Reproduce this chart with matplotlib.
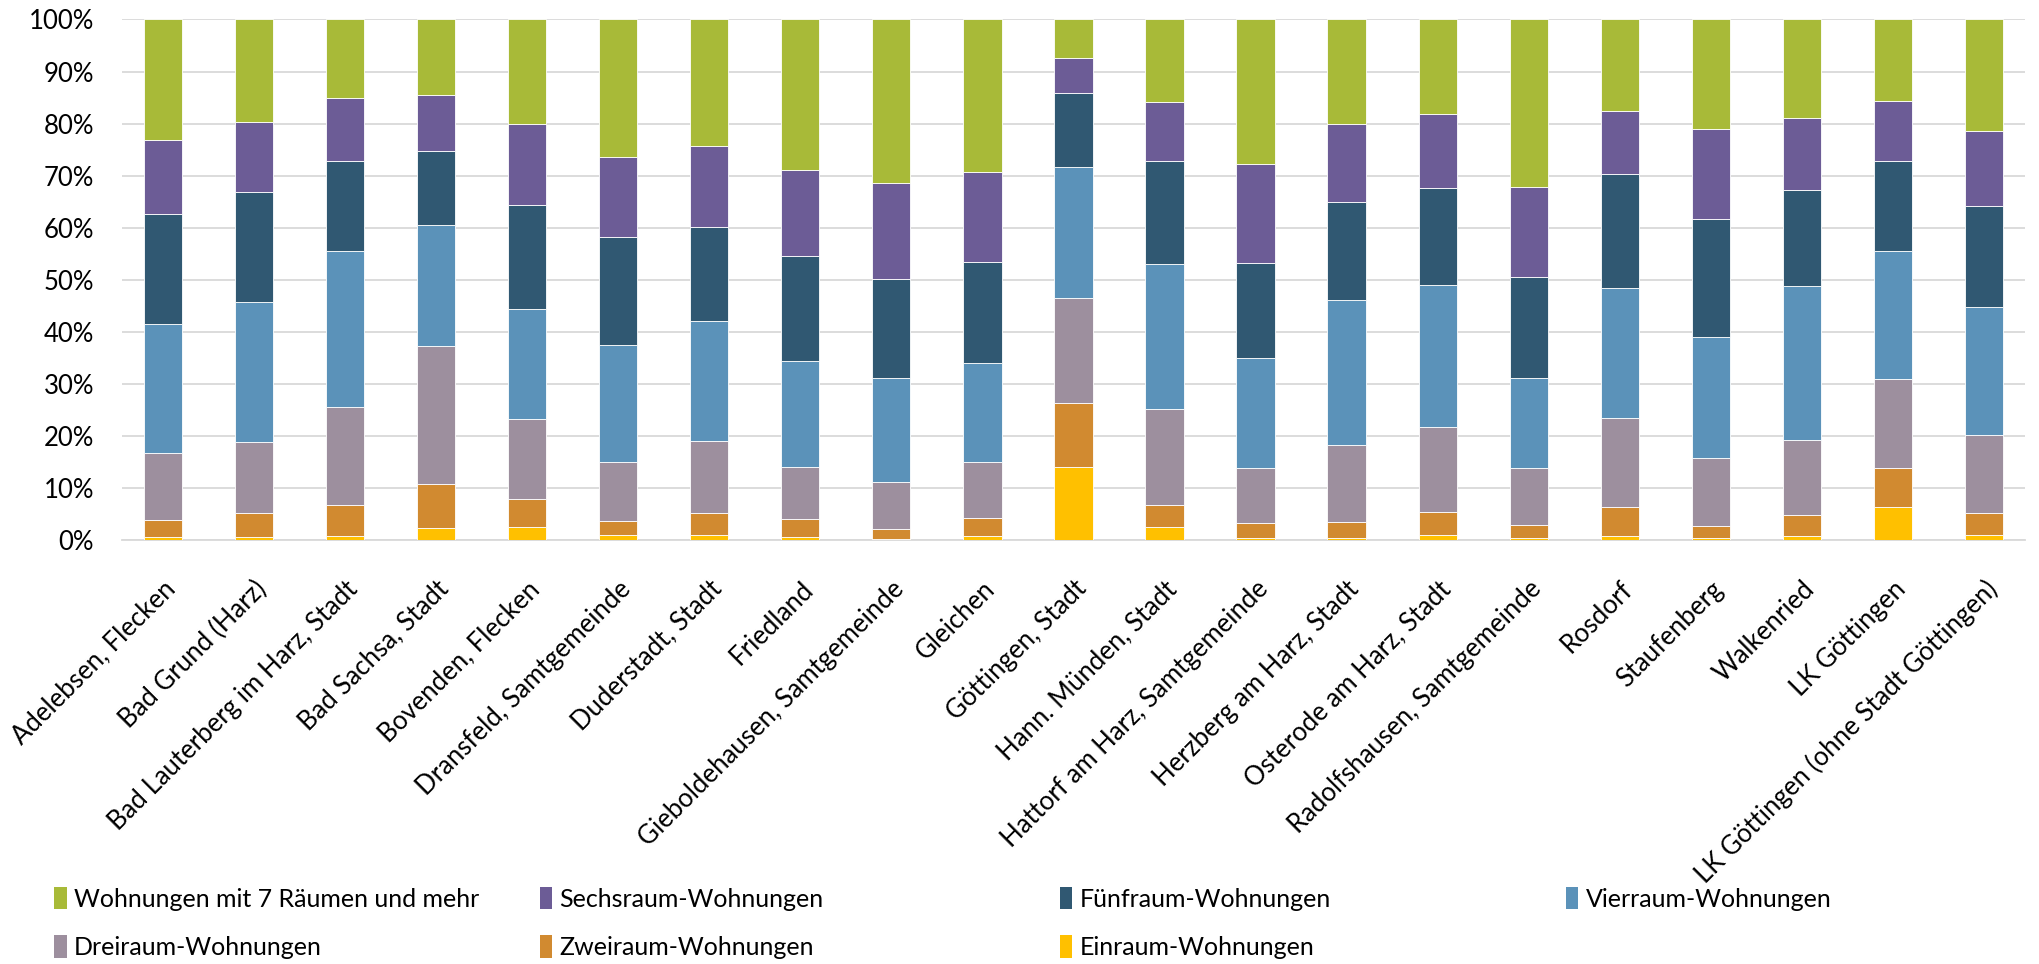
import matplotlib
matplotlib.use("Agg")
import matplotlib.pyplot as plt
import numpy as np
from matplotlib.patches import Patch

plt.rcParams['font.family'] = ['Lato', 'DejaVu Sans']

categories = [
    "Adelebsen, Flecken", "Bad Grund (Harz)", "Bad Lauterberg im Harz, Stadt",
    "Bad Sachsa, Stadt", "Bovenden, Flecken", "Dransfeld, Samtgemeinde",
    "Duderstadt, Stadt", "Friedland", "Gieboldehausen, Samtgemeinde", "Gleichen",
    "Göttingen, Stadt", "Hann. Münden, Stadt", "Hattorf am Harz, Samtgemeinde",
    "Herzberg am Harz, Stadt", "Osterode am Harz, Stadt", "Radolfshausen, Samtgemeinde",
    "Rosdorf", "Staufenberg", "Walkenried", "LK Göttingen", "LK Göttingen (ohne Stadt Göttingen)",
]

# shares in percent, stacked bottom to top
einraum = [0.5, 0.6, 0.8, 2.3, 2.5, 1.0, 1.0, 0.6, 0.2, 0.7, 14.1, 2.5, 0.3, 0.3, 1.0, 0.4, 0.8, 0.3, 0.7, 6.4, 1.0]
zweiraum = [3.3, 4.5, 5.9, 8.4, 5.4, 2.7, 4.2, 3.5, 1.9, 3.6, 12.2, 4.2, 3.0, 3.1, 4.3, 2.4, 5.5, 2.4, 4.1, 7.5, 4.2]
dreiraum = [13.0, 13.8, 18.9, 26.5, 15.4, 11.2, 13.9, 10.0, 9.0, 10.6, 20.1, 18.4, 10.6, 14.8, 16.4, 11.1, 17.2, 13.1, 14.5, 17.0, 15.0]
vierraum = [24.7, 26.9, 29.9, 23.3, 21.1, 22.5, 23.0, 20.2, 20.0, 19.1, 25.2, 28.0, 21.1, 27.9, 27.3, 17.2, 25.0, 23.2, 29.5, 24.6, 24.5]
fuenfraum = [21.1, 21.0, 17.4, 14.2, 19.9, 20.9, 18.0, 20.3, 19.1, 19.5, 14.2, 19.7, 18.2, 18.9, 18.6, 19.5, 21.8, 22.6, 18.4, 17.4, 19.4]
sechsraum = [14.3, 13.5, 12.0, 10.8, 15.7, 15.3, 15.5, 16.4, 18.3, 17.2, 6.8, 11.4, 19.1, 15.0, 14.2, 17.2, 12.1, 17.3, 13.9, 11.4, 14.4]
sieben_plus = [23.1, 19.7, 15.1, 14.5, 20.0, 26.4, 24.4, 29.0, 31.5, 29.3, 7.4, 15.8, 27.7, 20.0, 18.2, 32.2, 17.6, 21.1, 18.9, 15.7, 21.5]

series_names = ["Einraum-Wohnungen", "Zweiraum-Wohnungen", "Dreiraum-Wohnungen",
                "Vierraum-Wohnungen", "Fünfraum-Wohnungen", "Sechsraum-Wohnungen",
                "Wohnungen mit 7 Räumen und mehr"]
series_vals = [einraum, zweiraum, dreiraum, vierraum, fuenfraum, sechsraum, sieben_plus]
colors = ["#FFC000", "#D18A30", "#9D8F9E", "#5B92B9", "#305872", "#6C5C96", "#A8BA38"]

fig = plt.figure(figsize=(20.4, 9.64), dpi=100)
ax = fig.add_axes([0.0598, 0.4398, 0.9328, 0.54])

x = np.arange(len(categories))
data = np.array(series_vals, dtype=float)
data = data / data.sum(axis=0) * 100.0
bottom = np.zeros(len(categories))
for name, vals, c in zip(series_names, data, colors):
    ax.bar(x, vals, width=0.42, bottom=bottom, color=c,
           edgecolor="#FFFFFF", linewidth=0.6, zorder=3)
    bottom += vals

ax.set_xlim(-0.45, len(categories) - 0.55)
ax.set_ylim(0, 100)
ax.set_yticks(np.arange(0, 101, 10))
ax.set_yticklabels([f"{v}%" for v in range(0, 101, 10)])
ax.yaxis.grid(True, color="#D9D9D9", linewidth=1.3, zorder=0)
ax.set_axisbelow(True)
for s in ["top", "right", "left"]:
    ax.spines[s].set_visible(False)
ax.spines["bottom"].set_color("#D9D9D9")
ax.spines["bottom"].set_linewidth(1.3)
ax.tick_params(axis="both", length=0, labelsize=18.5, colors="#000000")
ax.tick_params(axis="y", pad=20)
ax.tick_params(axis="x", pad=26)
ax.set_xticks(x)
ax.set_xticklabels(categories, rotation=45, ha="right", va="top", rotation_mode="anchor")

# legend in 4 columns, row-major order like the reference
order_cols = [
    ["Wohnungen mit 7 Räumen und mehr", "Dreiraum-Wohnungen"],
    ["Sechsraum-Wohnungen", "Zweiraum-Wohnungen"],
    ["Fünfraum-Wohnungen", "Einraum-Wohnungen"],
    ["Vierraum-Wohnungen"],
]
cmap = dict(zip(series_names, colors))
col_x = [0.0265, 0.2645, 0.5195, 0.7675]
for cx, names in zip(col_x, order_cols):
    handles = [Patch(facecolor=cmap[n], edgecolor="none") for n in names]
    fig.legend(handles, names, loc="upper left", bbox_to_anchor=(cx, 0.080),
               frameon=False, fontsize=18, handlelength=0.5, handleheight=1.0,
               handletextpad=0.3, labelspacing=0.98, borderaxespad=0, borderpad=0)

fig.savefig("out.png", dpi=100, facecolor="white")
